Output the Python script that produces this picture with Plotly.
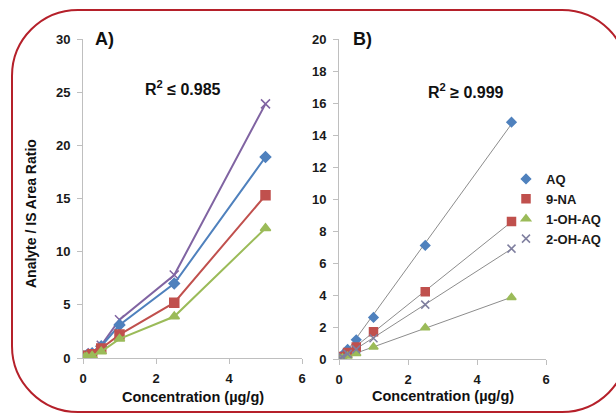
import numpy as np
import plotly.graph_objects as go

# ---------------- data ----------------
conc = [0.05, 0.1, 0.25, 0.5, 1.0, 2.5, 5.0]
series_names = ["AQ", "9-NA", "1-OH-AQ", "2-OH-AQ"]

# Panel A
a_AQ = [0.15, 0.25, 0.45, 1.1, 3.1, 7.0, 18.9]
a_9NA = [0.10, 0.20, 0.35, 0.9, 2.2, 5.2, 15.3]
a_1OH = [0.05, 0.10, 0.20, 0.6, 1.8, 3.9, 12.2]
a_2OH = [0.15, 0.30, 0.50, 1.2, 3.6, 7.8, 23.9]

# Panel B
b_AQ = [0.08, 0.25, 0.60, 1.2, 2.6, 7.1, 14.8]
b_9NA = [0.05, 0.15, 0.40, 0.75, 1.7, 4.2, 8.6]
b_1OH = [0.02, 0.07, 0.18, 0.35, 0.75, 1.95, 3.85]
b_2OH = [0.04, 0.12, 0.32, 0.60, 1.3, 3.4, 6.9]

xticks = [0, 2, 4, 6]
yticks_a = [0, 5, 10, 15, 20, 25, 30]
yticks_b = [0, 2, 4, 6, 8, 10, 12, 14, 16, 18, 20]

colors = ["#4F81BD", "#C0504D", "#9BBB59", "#8064A2"]
symbols = ["diamond", "square", "triangle-up", "x-thin-open"]
sizes = [8, 9, 9, 9]

W, H = 616, 416
def fx(px): return px / W
def fy(py): return 1 - py / H

FONT = "Liberation Sans, Arial, sans-serif"

fig = go.Figure()
a_data = [a_AQ, a_9NA, a_1OH, a_2OH]
b_data = [b_AQ, b_9NA, b_1OH, b_2OH]

for i in [3, 0, 1, 2]:
    fig.add_trace(go.Scatter(
        x=conc, y=a_data[i], mode="lines+markers", name=series_names[i],
        line=dict(color=colors[i], width=2),
        marker=dict(symbol=symbols[i], size=sizes[i], color=colors[i],
                    line=dict(color=colors[i], width=1.5)),
        showlegend=False, xaxis="x", yaxis="y"))

for i in range(4):
    slope, intercept = np.polyfit(conc, b_data[i], 1)
    xs = [0, max(conc)]
    fig.add_trace(go.Scatter(
        x=xs, y=[intercept + slope * v for v in xs], mode="lines",
        line=dict(color="#8c8c8c", width=1), showlegend=False,
        hoverinfo="skip", xaxis="x2", yaxis="y2"))

b_colors = ["#4F81BD", "#C0504D", "#9BBB59", "#7f7f9f"]
b_sizes = [7, 8, 8, 8]
for i in range(4):
    fig.add_trace(go.Scatter(
        x=conc, y=b_data[i], mode="markers", name=series_names[i],
        marker=dict(symbol=symbols[i], size=b_sizes[i], color=b_colors[i],
                    line=dict(color=b_colors[i], width=1.5)),
        showlegend=True, xaxis="x2", yaxis="y2"))

axis_common = dict(
    showline=True, linecolor="#bfbfbf", linewidth=1,
    ticks="outside", ticklen=5, tickcolor="#bfbfbf",
    showgrid=False, zeroline=False,
    tickfont=dict(family=FONT, size=13, color="#1a1a1a", weight="bold"),
)

fig.update_layout(
    width=W, height=H,
    margin=dict(l=0, r=0, t=0, b=0, pad=0, autoexpand=False),
    paper_bgcolor="white", plot_bgcolor="white",
    xaxis=dict(domain=[fx(83), fx(302)], range=[0, 6], tickvals=xticks,
               anchor="y", ticklabelstandoff=3, **axis_common),
    yaxis=dict(domain=[fy(358), fy(39)], range=[0, 30], tickvals=yticks_a,
               anchor="x", ticklabelstandoff=4, **axis_common),
    xaxis2=dict(domain=[fx(339), fx(546)], range=[0, 6], tickvals=xticks,
                anchor="y2", ticklabelstandoff=3, **axis_common),
    yaxis2=dict(domain=[fy(359), fy(39)], range=[0, 20], tickvals=yticks_b,
                anchor="x2", ticklabelstandoff=4, **axis_common),
    legend=dict(x=fx(506), y=fy(164), xanchor="left", yanchor="top",
                font=dict(family=FONT, size=13, color="#1a1a1a", weight="bold"),
                bgcolor="rgba(0,0,0,0)", tracegroupgap=0, itemwidth=30),
    showlegend=True,
)

ann_font = dict(family=FONT, color="#111111", weight="bold")
annotations = [
    dict(x=fx(31), y=fy(214), text="Analyte / IS Area Ratio", textangle=-90,
         font=dict(size=14, **ann_font)),
    dict(x=fx(193), y=fy(397), text="Concentration (µg/g)", font=dict(size=14.5, **ann_font)),
    dict(x=fx(443), y=fy(396), text="Concentration (µg/g)", font=dict(size=14.5, **ann_font)),
    dict(x=fx(105), y=fy(39), text="A)", font=dict(size=18, **ann_font)),
    dict(x=fx(362), y=fy(39), text="B)", font=dict(size=18, **ann_font)),
    dict(x=fx(183), y=fy(88), text="R<sup>2</sup> ≤ 0.985", font=dict(size=16, **ann_font)),
    dict(x=fx(466), y=fy(91), text="R<sup>2</sup> ≥ 0.999", font=dict(size=16, **ann_font)),
]
for a in annotations:
    a.update(xref="paper", yref="paper", showarrow=False, xanchor="center", yanchor="middle")
fig.update_layout(annotations=annotations)

# rounded red frame
L, T, R, B, r = 12, 10, 628, 412, 66
k = 0.5523 * r
def p(x, y): return f"{fx(x):.5f},{fy(y):.5f}"
path = (f"M {p(L, T + r)} C {p(L, T + r - k)} {p(L + r - k, T)} {p(L + r, T)} "
        f"L {p(R - r, T)} C {p(R - r + k, T)} {p(R, T + r - k)} {p(R, T + r)} "
        f"L {p(R, B - r)} C {p(R, B - r + k)} {p(R - r + k, B)} {p(R - r, B)} "
        f"L {p(L + r, B)} C {p(L + r - k, B)} {p(L, B - r + k)} {p(L, B - r)} Z")
fig.add_shape(type="path", path=path, xref="paper", yref="paper",
              line=dict(color="#B5202A", width=2), layer="below")

fig.write_html("out.html", config={"displayModeBar": False},
               post_script="document.body.style.margin='0';document.body.style.overflow='hidden';")
